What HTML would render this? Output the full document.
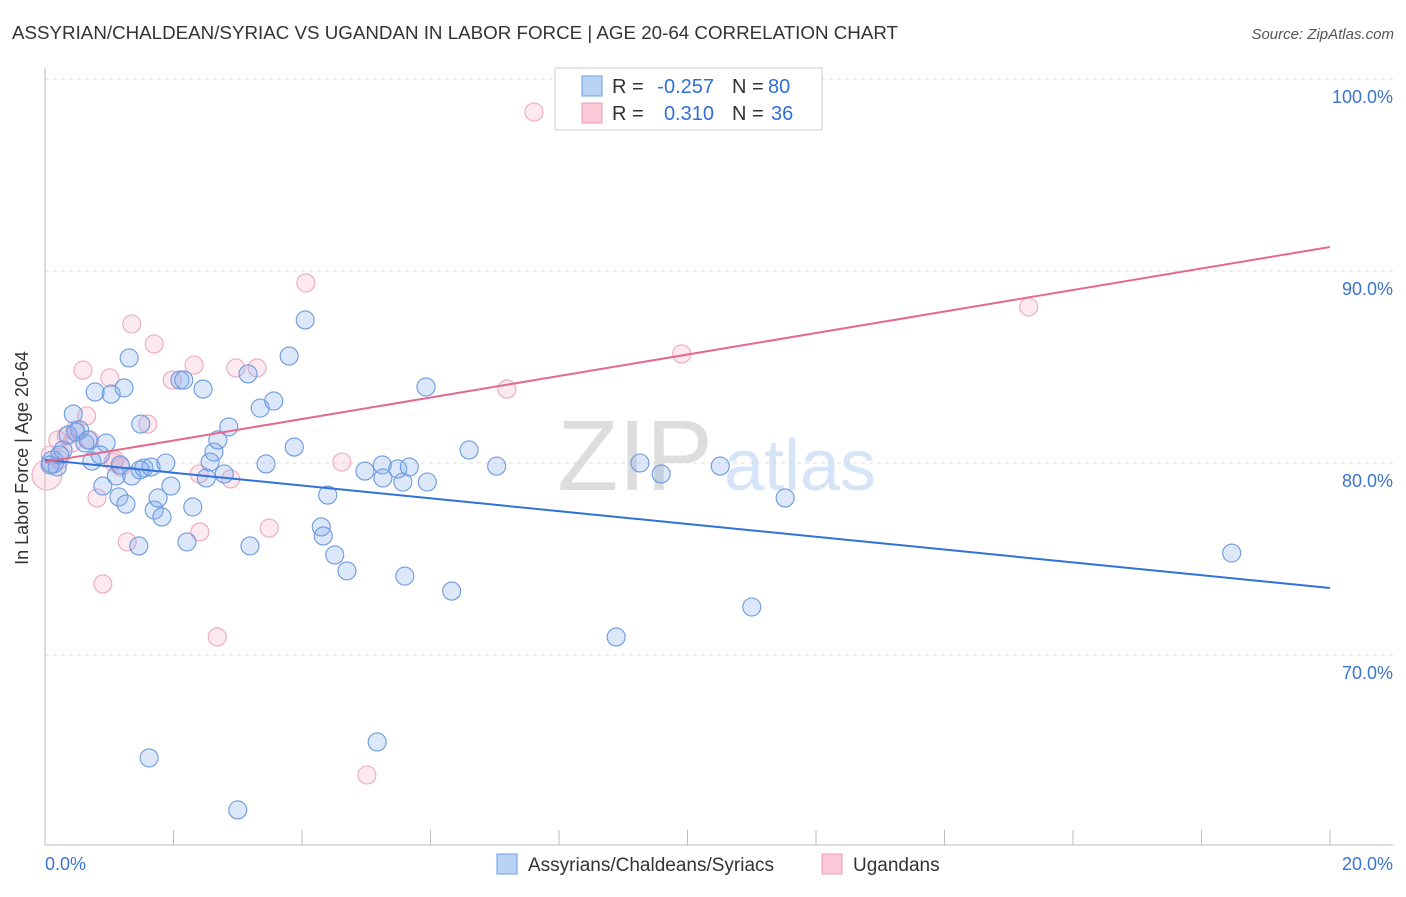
<!DOCTYPE html>
<html><head><meta charset="utf-8"><style>
body{margin:0;background:#fff;font-family:"Liberation Sans",sans-serif}
svg text{font-family:"Liberation Sans",sans-serif}
</style></head><body>
<svg id="chart" width="1406" height="892" xmlns="http://www.w3.org/2000/svg">
<text x="12" y="39" font-size="18" fill="#333" textLength="886" lengthAdjust="spacingAndGlyphs">ASSYRIAN/CHALDEAN/SYRIAC VS UGANDAN IN LABOR FORCE | AGE 20-64 CORRELATION CHART</text>
<text x="1394" y="39" font-size="15" fill="#555" font-style="italic" text-anchor="end">Source: ZipAtlas.com</text>
<g>
<text x="635" y="490" font-size="100" fill="#ddd" font-family="Liberation Serif" text-anchor="middle">ZIP</text>
<text x="800" y="490" font-size="72" fill="#d5e4f6" text-anchor="middle">atlas</text>
</g>
<g id="grid"></g><g id="axes"></g><g id="points"></g><g id="trends"></g>
<text x="28" y="458" font-size="18" fill="#333" text-anchor="middle" transform="rotate(-90 28 458)">In Labor Force | Age 20-64</text>
<g>
<rect x="555" y="68" width="267" height="62" fill="#fff" stroke="#ccc"/>
<rect x="582" y="76" width="20" height="20" fill="#b9d3f5" stroke="#6d9de0"/>
<rect x="582" y="103" width="20" height="20" fill="#fbc9d7" stroke="#eb9cb3"/>
<text x="612" y="93" font-size="20" fill="#333">R =</text>
<text x="714" y="93" font-size="20" fill="#2f6fd6" text-anchor="end">-0.257</text>
<text x="732" y="93" font-size="20" fill="#333">N =</text>
<text x="768" y="93" font-size="20" fill="#2f6fd6">80</text>
<text x="612" y="120" font-size="20" fill="#333">R =</text>
<text x="714" y="120" font-size="20" fill="#2f6fd6" text-anchor="end">0.310</text>
<text x="732" y="120" font-size="20" fill="#333">N =</text>
<text x="771" y="120" font-size="20" fill="#2f6fd6">36</text>
</g>
<g>
<rect x="497" y="854" width="20" height="20" fill="#b9d3f5" stroke="#6d9de0"/>
<text x="528" y="871" font-size="19" fill="#333">Assyrians/Chaldeans/Syriacs</text>
<rect x="822" y="854" width="20" height="20" fill="#fbc9d7" stroke="#eb9cb3"/>
<text x="853" y="871" font-size="19" fill="#333">Ugandans</text>
</g>
</svg>
<script>
const blueX=[0.12,0.19,0.28,0.44,0.54,0.62,0.73,0.78,0.90,0.95,1.03,1.11,1.15,1.23,1.26,1.31,1.35,1.46,1.49,1.54,1.62,1.65,1.70,1.76,1.82,1.88,1.96,2.10,2.16,2.21,2.30,2.46,2.51,2.57,2.63,2.69,2.79,2.86,3.00,3.16,3.19,3.35,3.44,3.56,3.80,3.88,4.05,4.30,4.33,4.40,4.51,4.70,4.98,5.17,5.25,5.26,5.49,5.57,5.60,5.67,5.93,5.95,6.33,6.60,7.03,8.89,9.26,9.59,10.51,11.00,11.52,18.47,0.08,0.23,0.36,0.48,0.67,0.86,1.17,1.48];
const blueY=[80.05,79.79,80.68,82.55,81.72,81.04,80.10,83.70,78.80,81.04,83.59,79.32,78.23,83.91,77.86,85.47,79.32,75.68,82.03,79.74,64.64,79.79,77.55,78.18,77.19,80.00,78.80,84.32,84.32,75.89,77.71,83.85,79.22,80.05,80.57,81.20,79.43,81.88,61.93,84.64,75.68,82.86,79.95,83.23,85.57,80.83,87.45,76.67,76.20,78.33,75.21,74.38,79.58,65.47,79.90,79.22,79.69,79.01,74.11,79.79,83.96,79.01,73.33,80.68,79.84,70.94,80.00,79.43,79.84,72.50,78.18,75.31,79.90,80.42,81.46,81.61,81.20,80.42,79.90,79.64];
const pinkX=[0.03,0.20,0.33,0.42,0.59,0.65,0.81,0.90,1.01,1.06,1.18,1.28,1.35,1.60,1.70,1.98,2.32,2.40,2.41,2.68,2.89,2.97,3.30,3.49,4.06,4.62,5.01,7.19,7.61,9.91,15.31,0.23,0.70,1.09,0.47,0.08];
const pinkY=[79.38,81.20,81.41,81.04,84.84,82.45,78.18,73.70,84.43,80.05,79.79,75.89,87.24,82.03,86.20,84.32,85.10,79.43,76.41,70.94,79.17,84.95,84.95,76.61,89.38,80.05,63.75,83.85,98.28,85.68,88.13,80.16,81.20,80.16,81.72,80.42];
const blueTrend=[80.16,73.49];
const pinkTrend=[80.05,91.25];
const yTicks=[100,90,80,70];
const yTickLabels=["100.0%","90.0%","80.0%","70.0%"];
const xTicks=[0,2,4,6,8,10,12,14,16,18,20];
const xTickLabels=["0.0%","20.0%"];
const NS="http://www.w3.org/2000/svg";
const X=v=>45+v*64.25, Y=v=>79+(100-v)*19.2;
function mk(tag,attrs,parent){const e=document.createElementNS(NS,tag);for(const k in attrs)e.setAttribute(k,attrs[k]);document.getElementById(parent).appendChild(e);return e;}
yTicks.forEach((t,i)=>{
 const l=mk('line',{x1:45,x2:1393,y1:Y(t),y2:Y(t),stroke:'#ddd','stroke-dasharray':'4,4'},'grid');
 
 
 const tx=mk('text',{x:1393,y:Y(t)+24,'font-size':18,fill:'#3b73d1','text-anchor':'end'},'grid');
 tx.textContent=yTickLabels[i];
 
 
});
const ya=mk('line',{x1:45,x2:45,y1:68,y2:845,stroke:'#bbb'},'axes');


const xa=mk('line',{x1:45,x2:1393,y1:845,y2:845,stroke:'#bbb'},'axes');


xTicks.forEach(t=>{
 const l=mk('line',{x1:X(t),x2:X(t),y1:830,y2:845,stroke:'#bbb'},'axes');
 
 
});
[[0,'start',X(0)],[20,'end',X(20)+63]].forEach((d,i)=>{
 const tx=mk('text',{x:d[2],y:870,'font-size':18,fill:'#3b73d1','text-anchor':d[1]},'axes');
 tx.textContent=xTickLabels[i];
 
 
});
pinkX.forEach((v,i)=>{
 const c=mk('circle',{cx:X(v),cy:Y(pinkY[i]),r:i===0?15:9,fill:'rgba(248,175,200,0.28)',stroke:'#efa8bf','stroke-width':1.1},'points');
 
 
});
blueX.forEach((v,i)=>{
 const c=mk('circle',{cx:X(v),cy:Y(blueY[i]),r:i===0?11:9,fill:'rgba(130,172,238,0.28)',stroke:'#6a9ae0','stroke-width':1.1},'points');
 
 
});
const bl=mk('line',{x1:X(0),y1:Y(blueTrend[0]),x2:X(20),y2:Y(blueTrend[1]),stroke:'#2f72d8','stroke-width':2},'trends');


const pl=mk('line',{x1:X(0),y1:Y(pinkTrend[0]),x2:X(20),y2:Y(pinkTrend[1]),stroke:'#e5698f','stroke-width':2},'trends');


</script>
</body></html>
